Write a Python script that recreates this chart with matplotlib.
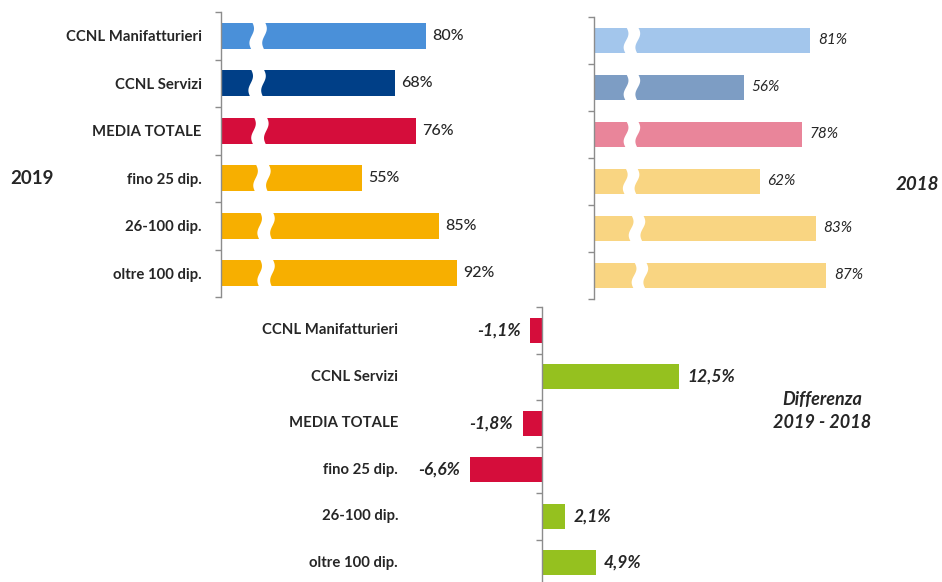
import numpy as np
import matplotlib
matplotlib.use("Agg")
import matplotlib.pyplot as plt

plt.rcParams['font.family'] = ['Lato', 'DejaVu Sans']

# data
categories = ['CCNL Manifatturieri', 'CCNL Servizi', 'MEDIA TOTALE',
              'fino 25 dip.', '26-100 dip.', 'oltre 100 dip.']
val_2019 = [80, 68, 76, 55, 85, 92]
val_2018 = [81, 56, 78, 62, 83, 87]
diff = [-1.1, 12.5, -1.8, -6.6, 2.1, 4.9]

colors_2019 = ['#4a90d9', '#003f87', '#d50d3b', '#f7af00', '#f7af00', '#f7af00']
colors_2018 = ['#a3c6ec', '#7d9dc4', '#e9859a', '#f9d582', '#f9d582', '#f9d582']
pos_color = '#95c11f'
neg_color = '#d50d3b'

# where the white "axis break" cut sits on each bar (in %)
break_2019 = [14.5, 14.1, 15.2, 16.0, 17.6, 17.6]
break_2018 = [14.2, 14.2, 14.2, 13.9, 16.1, 17.2]

txt = '#262626'
W, H = 942, 582
fig = plt.figure(figsize=(W / 100, H / 100), dpi=100)


def box(x0, y0, x1, y1):
    # pixel box (top-left origin) -> figure fraction
    return [x0 / W, 1 - y1 / H, (x1 - x0) / W, (y1 - y0) / H]


def style(ax, n):
    for s in ['top', 'right', 'bottom']:
        ax.spines[s].set_visible(False)
    ax.spines['left'].set_color('#8c8c8c')
    ax.spines['left'].set_linewidth(1)
    ax.set_ylim(n - 0.5, -0.5)
    ax.set_xticks([])
    ax.set_yticks(np.arange(-0.5, n, 1.0))
    ax.set_yticklabels([])
    ax.tick_params(axis='y', which='major', length=4, color='#8c8c8c', width=1)


def cut(ax, y, xc, h, w):
    t = np.linspace(0, 1, 40)
    ys = y - h / 2 - 0.03 + t * (h + 0.06)
    wig = 0.9 * np.sin(2 * np.pi * t)
    xl = xc - w / 2 + wig
    xr = xc + w / 2 + wig
    ax.fill(np.concatenate([xl, xr[::-1]]), np.concatenate([ys, ys[::-1]]),
            color='white', lw=0, zorder=3)


n = len(categories)
y = np.arange(n)
bh = 0.55

# 2019
ax1 = fig.add_axes(box(221, 12, 477, 297))
ax1.barh(y, val_2019, height=bh, color=colors_2019, zorder=2)
ax1.set_xlim(0, 100)
style(ax1, n)
ax1.set_yticks(y, minor=True)
ax1.set_yticklabels(categories, minor=True, fontsize=10.7, fontweight='bold', color=txt)
ax1.tick_params(axis='y', which='minor', length=0, pad=14)
for i, v in enumerate(val_2019):
    cut(ax1, i, break_2019[i], bh, 5.0)
    ax1.annotate(f'{v}%', (v, i), xytext=(4.5, 0), textcoords='offset points',
                 va='center', ha='left', fontsize=11.5, fontweight='medium', color=txt)

# 2018
ax2 = fig.add_axes(box(594, 17, 861, 299))
ax2.barh(y, val_2018, height=0.53, color=colors_2018, zorder=2)
ax2.set_xlim(0, 100)
style(ax2, n)
for i, v in enumerate(val_2018):
    cut(ax2, i, break_2018[i], 0.53, 4.4)
    ax2.annotate(f'{v}%', (v, i), xytext=(5.5, 0), textcoords='offset points',
                 va='center', ha='left', fontsize=11, style='italic', color=txt)

# differenza
ax3 = fig.add_axes(box(455, 307, 695, 586))
ax3.barh(y, diff, height=0.54, color=[pos_color if d > 0 else neg_color for d in diff],
         zorder=2)
ax3.set_xlim(-8, 14)
style(ax3, n)
ax3.spines['left'].set_position(('data', 0))
for i, d in enumerate(diff):
    s = f'{d:.1f}%'.replace('.', ',')
    off = 6 if d > 0 else -7
    ax3.annotate(s, (d, i), xytext=(off, 0), textcoords='offset points',
                 va='center', ha='left' if d > 0 else 'right', fontsize=12.5,
                 style='italic', fontweight='bold', color=txt)
    ax3.text(-0.2375, i, categories[i], transform=ax3.get_yaxis_transform(),
             ha='right', va='center', fontsize=10.7, fontweight='bold', color=txt)

fig.text(10 / W, 1 - 178 / H, '2019', ha='left', va='center', fontsize=13.5,
         fontweight='bold', color=txt)
fig.text(939 / W, 1 - 185 / H, '2018', ha='right', va='center', fontsize=13.5,
         fontweight='bold', style='italic', color=txt)
fig.text(822 / W, 1 - 411 / H, 'Differenza\n2019 - 2018', ha='center', va='center',
         fontsize=13, fontweight='bold', style='italic', color=txt, linespacing=1.45)

fig.savefig('out.png', dpi=100)
